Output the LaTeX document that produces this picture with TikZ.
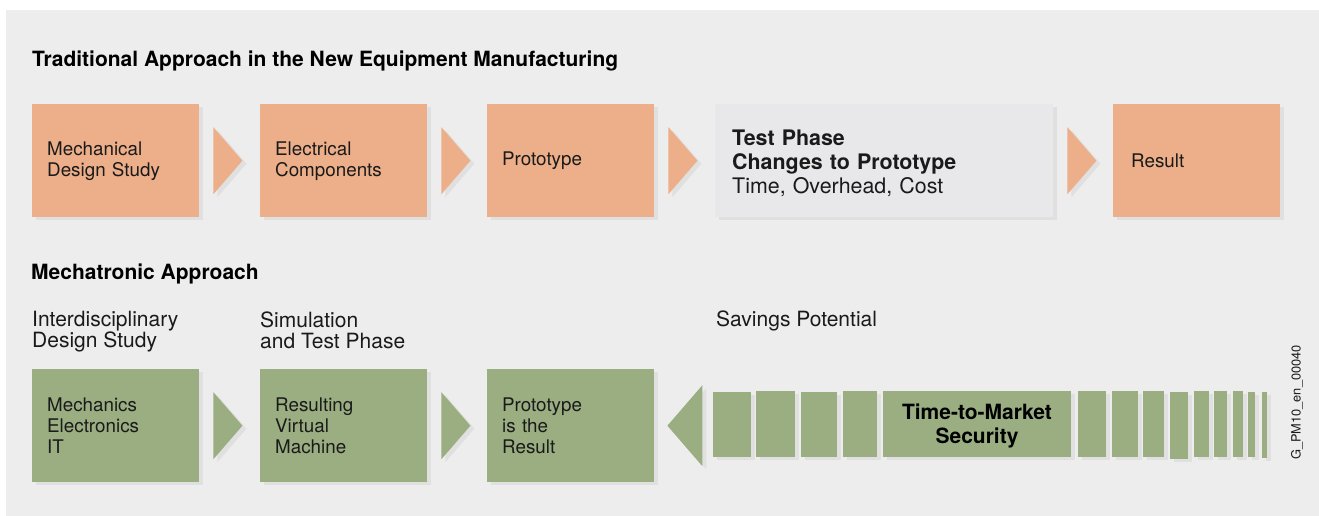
\documentclass[tikz,border=0pt]{standalone}
\usepackage{fontspec}
\setmainfont{TeX Gyre Heros}
\usetikzlibrary{shadows,calc}
\definecolor{bgc}{HTML}{EDEDED}
\definecolor{orng}{HTML}{ECAF89}
\definecolor{grn}{HTML}{9AAE82}
\definecolor{lgray}{HTML}{E8E8EA}
\definecolor{shc}{HTML}{E0E0E0}
\definecolor{txt}{HTML}{1A1A1A}
\begin{document}
\begin{tikzpicture}[x=1pt,y=-1pt,
  shd/.style={drop shadow={shadow xshift=4pt,shadow yshift=-3pt,fill=shc,opacity=1}},
  box/.style={shd, rectangle, draw=none, minimum width=167pt, minimum height=113pt,
    anchor=north west, inner xsep=15pt, inner ysep=0pt, text width=137pt, align=left,
    text=txt, font=\fontsize{18.8}{21}\selectfont},
  obox/.style={box, fill=orng},
  gbox/.style={box, fill=grn},
  heading/.style={anchor=base west, inner sep=0pt, text=black, font=\bfseries\fontsize{21}{24}\selectfont},
  label/.style={anchor=north west, inner sep=0pt, align=left, text=txt, font=\fontsize{21}{21.5}\selectfont},
  otri/.style={fill=orng, shd},
  gtri/.style={fill=grn, shd}
]
\useasboundingbox (0,0) rectangle (1319,516);
\fill[white] (0,0) rectangle (1319,516);
\fill[bgc] (6,10) rectangle (1319,516);

% headings
\node[heading] (h1) at (32,66.7) {Traditional Approach in the New Equipment Manufacturing};
\node[heading] (h2) at (31,279) {Mechatronic Approach};

% top row
\node[obox] (t1) at (32,104) {Mechanical\\Design Study};
\node[obox] (t2) at (260,104) {Electrical\\Components};
\node[obox] (t3) at (487,104) {Prototype};
\node[box, fill=lgray, minimum width=338pt, inner xsep=17pt, text width=304pt,
      font=\fontsize{21.4}{24}\selectfont] (t4) at (715,104)
      {\rule{0pt}{21.5pt}\textbf{Test Phase}\\\textbf{Changes to Prototype}\\Time, Overhead, Cost};
\node[obox, inner xsep=18pt, text width=131pt] (t5) at (1113,104) {Result};

\foreach \n in {t1,t2,t3,t4}{
  \fill[otri] ($(\n.east)+(14,-33.5)$) -- ++(29,33.5) -- ++(-29,33.5) -- cycle;
}

% bottom labels
\node[label] (l1) at (32,310.5) {Interdisciplinary\\Design Study};
\node[label] (l2) at (260,311.5) {Simulation\\and Test Phase};
\node[label] (l3) at (716,311) {Savings Potential};

% bottom row
\node[gbox] (b1) at (32,369) {Mechanics\\Electronics\\IT};
\node[gbox] (b2) at (260,369) {Resulting\\Virtual\\Machine};
\node[gbox] (b3) at (487,369) {Prototype\\is the\\Result};

\foreach \n in {b1,b2}{
  \fill[gtri] ($(\n.east)+(14,-33.5)$) -- ++(29,33.5) -- ++(-29,33.5) -- cycle;
}
\coordinate (tip) at ($(b3.east)+(13,0)$);
\fill[gtri] (tip) -- ++(35,-40.5) -- ++(0,81) -- cycle;

% savings bars
\foreach \a/\b/\c/\d in {713/751/392/457, 756/795/391/457, 801/837/392/457, 843/877/391/457,
  1078/1106/391/457, 1112/1138/391/457, 1143/1164/391/457, 1170/1188/392/459,
  1194/1209/391/457, 1214/1227/391/457, 1233/1243/391/457, 1248/1255/392/457, 1262/1267/392/458}{
  \fill[grn, shd] (\a,\c) rectangle (\b,\d);
}
\node[shd, fill=grn, minimum width=188pt, minimum height=66pt, inner sep=0pt, text width=188pt,
      align=center, text=black, font=\bfseries\fontsize{21}{24}\selectfont] (ttm) at (977,424)
      {\rule{0pt}{19.5pt}Time-to-Market\\Security};

% id label
\node[rotate=90, inner sep=0pt, text=txt, font=\fontsize{12.8}{14}\selectfont] (id) at (1297,402.5) {G\_PM10\_en\_00040};
\end{tikzpicture}
\end{document}
